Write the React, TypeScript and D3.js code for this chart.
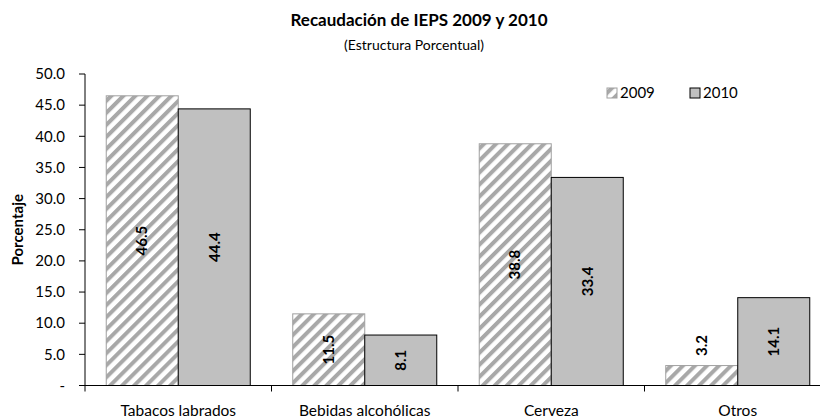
import React from "react";
import * as d3 from "d3";

const categories = ["Tabacos labrados", "Bebidas alcohólicas", "Cerveza", "Otros"];
const series = ["2009", "2010"];
const values2009 = [46.5, 11.5, 38.8, 3.2];
const values2010 = [44.4, 8.1, 33.4, 14.1];
const yTicks = [0, 5, 10, 15, 20, 25, 30, 35, 40, 45, 50];

const W = 820;
const H = 419;
const FONT = "Lato, 'Open Sans', sans-serif";

export default function App() {
  const left = 85;
  const band = 186.5;
  const x0 = d3
    .scaleBand<string>()
    .domain(categories)
    .range([left, left + band * categories.length])
    .paddingInner(0)
    .paddingOuter(0);
  const x1 = d3
    .scaleBand<string>()
    .domain(series)
    .range([0, band])
    .paddingOuter(0.295)
    .paddingInner(0);
  const y = d3.scaleLinear().domain([0, 50]).range([385.5, 74]);

  const data = [values2009, values2010];

  return (
    <svg
      width={W}
      height={H}
      style={{ position: "absolute", left: 0, top: 0, display: "block", background: "#fff" }}
    >
      <defs>
        <pattern
          id="hatch"
          patternUnits="userSpaceOnUse"
          width={8.5}
          height={8.5}
          patternTransform="rotate(45)"
        >
          <rect width={8.5} height={8.5} fill="#ffffff" />
          <rect x={0} y={0} width={4} height={8.5} fill="#a8a8a8" />
        </pattern>
      </defs>
      <text x={419} y={26} textAnchor="middle" fontFamily={FONT} fontWeight="bold" fontSize={17}>
        Recaudación de IEPS 2009 y 2010
      </text>
      <text x={414} y={50} textAnchor="middle" fontFamily={FONT} fontSize={14}>
        (Estructura Porcentual)
      </text>

      {/* y axis */}
      <line x1={left} x2={left} y1={y(50)} y2={y(0)} stroke="#000" />
      {yTicks.map((t) => (
        <g key={t}>
          <line x1={left - 6} x2={left} y1={y(t)} y2={y(t)} stroke="#000" />
          <text
            x={left - 20}
            y={y(t)}
            dy="0.35em"
            textAnchor="end"
            fontFamily={FONT}
            fontSize={15}
          >
            {t === 0 ? "-" : t.toFixed(1)}
          </text>
        </g>
      ))}
      <text
        transform={`translate(18,${(y(0) + y(50)) / 2}) rotate(-90)`}
        textAnchor="middle"
        dy="0.35em"
        fontFamily={FONT}
        fontWeight="bold"
        fontSize={15}
      >
        Porcentaje
      </text>

      {/* bars */}
      {categories.map((c, ci) => (
        <g key={c}>
          {series.map((s, si) => {
            const v = data[si][ci];
            const bx = (x0(c) ?? 0) + (x1(s) ?? 0);
            const bw = x1.bandwidth();
            const top = y(v);
            const h = y(0) - top;
            const inside = h > 40;
            const ly = inside ? top + h / 2 : top - 20;
            return (
              <g key={s}>
                <rect
                  x={bx}
                  y={top}
                  width={bw}
                  height={h}
                  fill={si === 0 ? "url(#hatch)" : "#c0c0c0"}
                  stroke={si === 0 ? "#a0a0a0" : "#000"}
                  strokeWidth={1}
                />
                <text
                  transform={`translate(${bx + bw / 2},${ly}) rotate(-90)`}
                  textAnchor="middle"
                  dy="0.35em"
                  fontFamily={FONT}
                  fontWeight="bold"
                  fontSize={15}
                >
                  {v.toFixed(1)}
                </text>
              </g>
            );
          })}
        </g>
      ))}

      {/* x axis */}
      <line x1={left - 6} x2={W} y1={y(0)} y2={y(0)} stroke="#000" />
      {categories.map((c) => (
        <line
          key={c}
          x1={x0(c) ?? 0}
          x2={x0(c) ?? 0}
          y1={y(0)}
          y2={y(0) + 6}
          stroke="#000"
        />
      ))}
      {categories.map((c) => (
        <text
          key={c}
          x={(x0(c) ?? 0) + band / 2}
          y={416}
          textAnchor="middle"
          fontFamily={FONT}
          fontSize={15.5}
        >
          {c}
        </text>
      ))}

      {/* legend */}
      {series.map((s, si) => {
        const lx = si === 0 ? 607 : 690;
        return (
          <g key={s}>
            <rect
              x={lx}
              y={88}
              width={10}
              height={10}
              fill={si === 0 ? "url(#hatch)" : "#c0c0c0"}
              stroke={si === 0 ? "#a0a0a0" : "#000"}
            />
            <text x={lx + 13} y={93} dy="0.35em" fontFamily={FONT} fontSize={15}>
              {s}
            </text>
          </g>
        );
      })}
    </svg>
  );
}
